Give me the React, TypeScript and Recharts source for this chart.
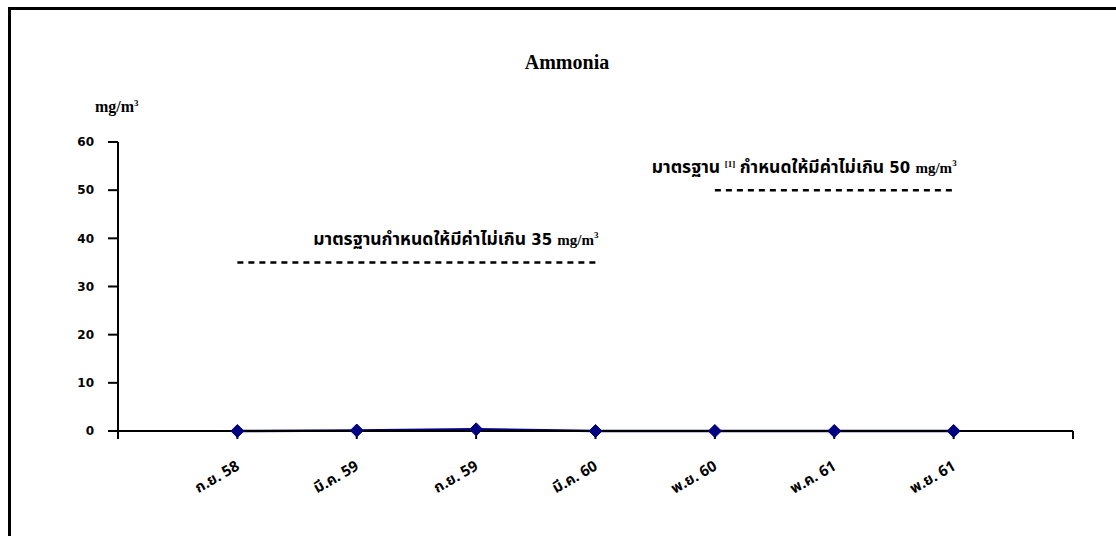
import React from "react";
import { LineChart, Line, XAxis, YAxis } from "recharts";

// ammonia readings, mg/m3
const periods = ["ก.ย. 58", "มี.ค. 59", "ก.ย. 59", "มี.ค. 60", "พ.ย. 60", "พ.ค. 61", "พ.ย. 61"];
const ammonia = [0, 0.1, 0.35, 0, 0, 0, 0];
// standard limits, only drawn over the periods they applied to
const std35 = [35, 35, 35, 35, null, null, null];
const std50 = [null, null, null, null, 50, 50, 50];
const yTicks = [0, 10, 20, 30, 40, 50, 60];
const xTicks = [0, 1, 2, 3, 4, 5, 6, 7, 8];

const data = periods.map((p, i) => ({
  x: i + 1,
  label: p,
  ammonia: ammonia[i],
  std35: std35[i],
  std50: std50[i],
}));

const THAI = "Tahoma, 'Noto Sans Thai', 'Loma', 'Garuda', 'DejaVu Sans', sans-serif";
const SERIF = "'Liberation Serif', 'DejaVu Serif', serif";
const NAVY = "#000080";

const Diamond = (props: any) => {
  const { cx, cy } = props;
  if (cx == null || cy == null) return null;
  const r = 6.5;
  return (
    <polygon
      points={`${cx},${cy - r} ${cx + r},${cy} ${cx},${cy + r} ${cx - r},${cy}`}
      fill={NAVY}
      stroke={NAVY}
    />
  );
};

const XTick = (props: any) => {
  const { x, y, payload } = props;
  const idx = payload.value - 1;
  const text = idx >= 0 && idx < periods.length ? periods[idx] : "";
  if (!text) return null;
  const tx = x + 3;
  const ty = y + 28;
  return (
    <text
      x={tx}
      y={ty}
      textAnchor="end"
      transform={`rotate(-30, ${tx}, ${ty})`}
      fontFamily={THAI}
      fontWeight="bold"
      fontSize={15}
      fill="#000"
    >
      {text}
    </text>
  );
};

const StdLabel = (limit: number, idx: number, withRef: boolean) => (props: any) => {
  const { x, y, index } = props;
  if (index !== idx || x == null) return null;
  return (
    <text x={x + 3} y={y - 17} textAnchor="end" fontWeight="bold" fill="#000" fontSize={17.5}>
      <tspan fontFamily={THAI}>มาตรฐาน</tspan>
      {withRef ? (
        <>
          <tspan fontFamily={THAI}> </tspan>
          <tspan fontFamily={SERIF} fontSize={9} dy={-6}>
            [1]
          </tspan>
          <tspan fontFamily={THAI} dy={6}>
            {" "}
          </tspan>
        </>
      ) : null}
      <tspan fontFamily={THAI}>กำหนดให้มีค่าไม่เกิน</tspan>
      <tspan fontFamily="'DejaVu Sans', sans-serif" fontSize={15}>
        {" " + limit + " "}
      </tspan>
      <tspan fontFamily={SERIF} fontSize={15}>
        mg/m
      </tspan>
      <tspan fontFamily={SERIF} fontSize={9} dy={-7}>
        3
      </tspan>
    </text>
  );
};

export default function App() {
  return (
    <div style={{ position: "fixed", left: 0, top: 0, width: 1116, height: 536, overflow: "hidden", background: "#fff" }}>
      <div
        style={{
          position: "absolute",
          left: 8,
          top: 7,
          width: 1200,
          height: 600,
          borderTop: "3px solid #000",
          borderLeft: "3px solid #000",
        }}
      />
      <div
        style={{
          position: "absolute",
          left: 0,
          width: 1116,
          top: 50,
          textAlign: "center",
          fontFamily: SERIF,
          fontWeight: "bold",
          fontSize: 20,
          lineHeight: "24px",
          paddingLeft: 18,
          boxSizing: "border-box",
        }}
      >
        Ammonia
      </div>
      <div
        style={{
          position: "absolute",
          left: 95,
          top: 93,
          fontFamily: SERIF,
          fontWeight: "bold",
          fontSize: 16,
          lineHeight: "20px",
        }}
      >
        mg/m<sup style={{ fontSize: 9 }}>3</sup>
      </div>
      <div style={{ position: "absolute", left: 0, top: 0 }}>
        <LineChart width={1116} height={536} data={data} margin={{ top: 142, right: 43, left: 58, bottom: 45 }}>
          <XAxis
            dataKey="x"
            type="number"
            domain={[0, 8]}
            ticks={xTicks}
            interval={0}
            tick={<XTick />}
            tickSize={8}
            height={60}
            axisLine={{ stroke: "#000", strokeWidth: 2 }}
            tickLine={{ stroke: "#000", strokeWidth: 2 }}
          />
          <YAxis
            domain={[0, 60]}
            ticks={yTicks}
            interval={0}
            width={60}
            tickSize={10}
            tickMargin={14}
            tick={{ fill: "#000", fontSize: 12, fontWeight: "bold", fontFamily: "'DejaVu Sans', sans-serif" }}
            axisLine={{ stroke: "#000", strokeWidth: 2 }}
            tickLine={{ stroke: "#000", strokeWidth: 2 }}
          />
          <Line
            dataKey="std35"
            stroke="#000"
            strokeWidth={2.5}
            strokeDasharray="6 5"
            dot={false}
            activeDot={false}
            isAnimationActive={false}
            label={StdLabel(35, 3, false)}
          />
          <Line
            dataKey="std50"
            stroke="#000"
            strokeWidth={2.5}
            strokeDasharray="6 5"
            dot={false}
            activeDot={false}
            isAnimationActive={false}
            label={StdLabel(50, 6, true)}
          />
          <Line
            dataKey="ammonia"
            stroke={NAVY}
            strokeWidth={2.5}
            dot={<Diamond />}
            activeDot={false}
            isAnimationActive={false}
          />
        </LineChart>
      </div>
    </div>
  );
}
